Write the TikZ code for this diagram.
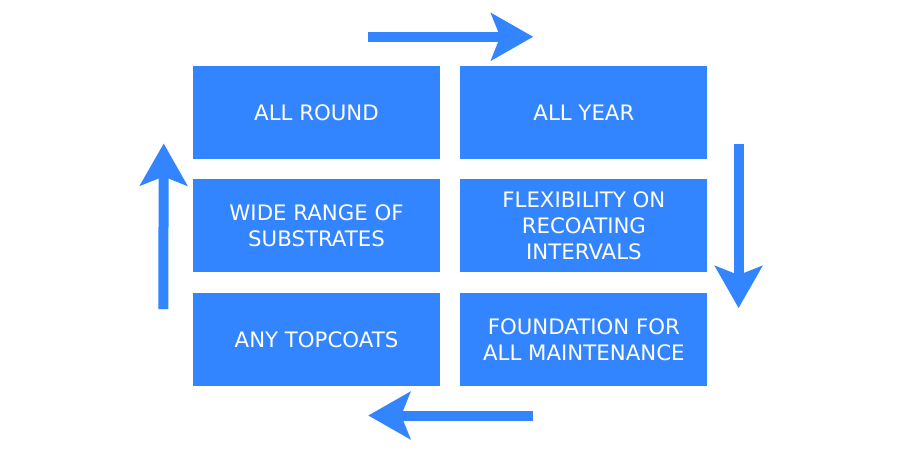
\documentclass[tikz,border=0pt]{standalone}
\usepackage{fontspec}
\setsansfont{DejaVu Sans}
\usetikzlibrary{arrows.meta, positioning, calc}
\definecolor{boxblue}{RGB}{51,133,255}

\begin{document}
\begin{tikzpicture}[
    x=1pt, y=-1pt,
    >={Stealth[length=42pt, width=47pt, inset=9pt]},
    cell/.style={fill=boxblue, text=white, align=center,
                 minimum width=247pt, minimum height=93pt,
                 inner sep=0pt, font=\sffamily\fontsize{21.3}{25.7}\selectfont},
    flow/.style={->, draw=boxblue, line width=10pt},
    node distance=20pt
  ]
  \fill[white] (0,0) rectangle (900,460);
  \useasboundingbox (0,0) rectangle (900,460);

  \node[cell] at (316.5,112.5) (round) {ALL ROUND};
  \node[cell, right=of round] (year) {ALL YEAR};
  \node[cell, below=of round] (range) {WIDE RANGE OF\\SUBSTRATES};
  \node[cell, below=of year] (flex) {FLEXIBILITY ON\\RECOATING\\INTERVALS};
  \node[cell, below=20.5pt of range] (topcoat) {ANY TOPCOATS};
  \node[cell, below=20.5pt of flex] (found) {FOUNDATION FOR\\ALL MAINTENANCE};

  % circulating arrows round the grid
  \coordinate (topL) at ($(round.north east)+(-72,-29)$);
  \coordinate (topR) at ($(year.north west)+(73,-29)$);
  \coordinate (rightT) at ($(year.east)+(31,31)$);
  \coordinate (rightB) at ($(found.north east)+(31,15)$);
  \coordinate (botR) at ($(found.south west)+(73,29)$);
  \coordinate (botL) at ($(topcoat.south east)+(-72,29)$);
  \coordinate (leftB) at ($(topcoat.north west)+(-29.5,16)$);
  \coordinate (leftT) at ($(round.east)+(-276.5,31)$);

  \draw[flow] (topL) -- (topR);
  \draw[flow] (rightT) -- (rightB);
  \draw[flow] (botR) -- (botL);
  \draw[flow] (leftB) -- (leftT);
\end{tikzpicture}
\end{document}
